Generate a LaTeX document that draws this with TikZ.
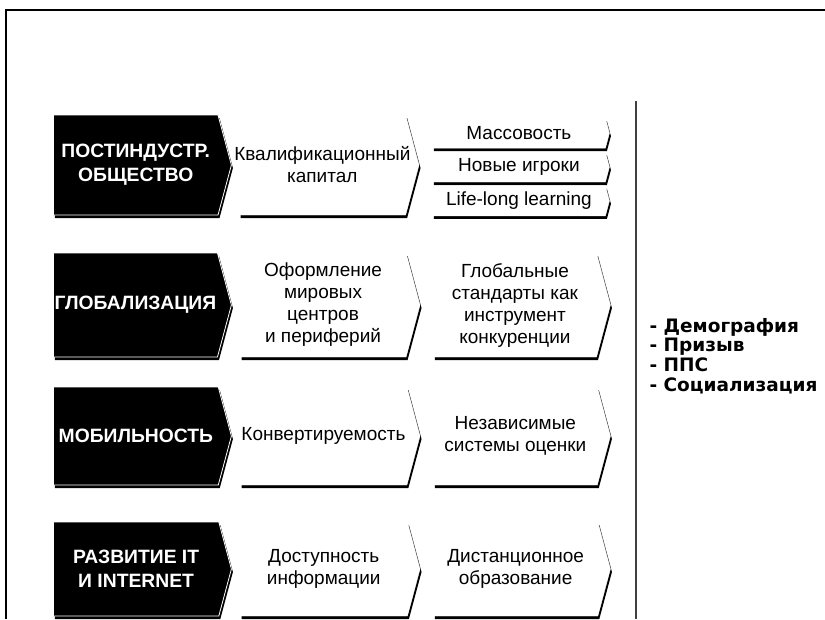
\documentclass[tikz,border=0pt]{standalone}
\usepackage{fontspec}
\setmainfont{Liberation Sans}
\newfontfamily\widebold{DejaVu Sans}
\usetikzlibrary{positioning,shapes.symbols,shadows}

\tikzset{
  A/.style={shape=signal, signal to=east, signal from=nowhere, signal pointer angle=150,
    inner sep=0pt, align=center, minimum height=98pt,
    drop shadow={shadow xshift=1.5pt, shadow yshift=-3pt, fill=black, opacity=1}},
  B/.style={A, fill=black, draw=white, line width=0.8pt, text=white,
    font=\fontsize{19.3}{24}\selectfont\bfseries, minimum width=178pt},
  W/.style={A, fill=white, draw=white, font=\fontsize{19}{22}\selectfont, minimum width=180pt},
  S/.style={W, minimum width=177pt, minimum height=30pt}
}

\begin{document}
\begin{tikzpicture}[x=1pt, y=1pt]
  \useasboundingbox (0,0) rectangle (825,-619);
  \clip (0,0) rectangle (825,-619);
  % frame and separator
  \draw[line width=2pt] (6,-619) |- (825,-10);
  \draw[black!75, line width=1.5pt] (636,-101) -- (636,-619);

  % row 1
  \node[B, anchor=west, minimum height=100pt] (post) at (53,-165) {ПОСТИНДУСТР.\\ОБЩЕСТВО};
  \node[W, right=7pt of post, minimum height=100pt, inner xsep=-5pt] (kval) {Квалификационный\\капитал};
  \node[S, right=13pt of kval, yshift=-2pt] (igr) {Новые игроки};
  \node[S, above=3.5pt of igr] (mass) {Массовость};
  \node[S, below=3.5pt of igr] (life) {Life-long learning};

  % row 2
  \node[B, anchor=west, minimum height=104pt] (glob) at (53,-305) {ГЛОБАЛИЗАЦИЯ};
  \node[W, right=8pt of glob, minimum height=104pt] (ofor) {Оформление\\мировых\\центров\\и периферий};
  \node[W, right=13pt of ofor, minimum height=104pt, minimum width=177pt] (stand) {Глобальные\\стандарты как\\инструмент\\конкуренции};

  % row 3
  \node[B, anchor=west] (mob) at (53,-436) {МОБИЛЬНОСТЬ};
  \node[W, right=8pt of mob] (konv) {Конвертируемость};
  \node[W, right=13pt of konv, minimum width=177pt] (nezav) {Независимые\\системы оценки};

  % row 4
  \node[B, anchor=west, minimum height=94pt] (it) at (53,-569) {РАЗВИТИЕ IT\\И INTERNET};
  \node[W, right=8pt of it, minimum height=94pt] (dost) {Доступность\\информации};
  \node[W, right=13pt of dost, minimum height=94pt, minimum width=177pt] (dist) {Дистанционное\\образование};

  % factors
  \node[anchor=west, align=left, font=\fontsize{18.5}{19.8}\selectfont\widebold\bfseries] (fact) at (646,-356)
    {- Демография\\- Призыв\\- ППС\\- Социализация};
\end{tikzpicture}
\end{document}
